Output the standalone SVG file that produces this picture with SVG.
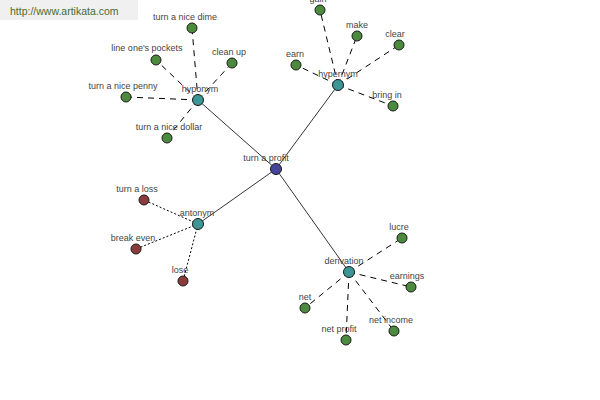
<svg xmlns="http://www.w3.org/2000/svg" width="600" height="400" viewBox="0 0 600 400">
<style>
.bg{fill:#ffffff}
.wm{fill:#f0f0f0}
.wmt{font-family:"Liberation Sans",Arial,sans-serif;font-size:10.5px;fill:#4a6a32}
.lbl{font-family:"Liberation Sans",Arial,sans-serif;font-size:9px;fill:#444444;text-anchor:middle}
.solid{stroke:#000;stroke-width:0.8;fill:none}
.dash{stroke:#000;stroke-width:1;stroke-dasharray:6,5;fill:none}
.dot{stroke:#000;stroke-width:1;stroke-dasharray:2,2;fill:none}
.leaf{fill:#4c8a3e;stroke:#1a1a1a;stroke-width:1}
.hub{fill:#3d9696;stroke:#1a1a1a;stroke-width:1}
.root{fill:#44449a;stroke:#1a1a1a;stroke-width:1}
.ant{fill:#8a3c3c;stroke:#1a1a1a;stroke-width:1}
</style>
<rect class="bg" x="0" y="0" width="600" height="400"/>
<rect class="wm" x="0" y="0" width="138" height="20"/>
<text class="wmt" x="10" y="15">http://www.artikata.com</text>
<g id="connectors">
<line class="solid" x1="276" y1="169" x2="198" y2="100"/>
<line class="solid" x1="276" y1="169" x2="338" y2="85"/>
<line class="solid" x1="276" y1="169" x2="198" y2="224"/>
<line class="solid" x1="276" y1="169" x2="349" y2="272"/>
<line class="dash" x1="198" y1="100" x2="192" y2="28"/>
<line class="dash" x1="198" y1="100" x2="156" y2="60"/>
<line class="dash" x1="198" y1="100" x2="232" y2="63"/>
<line class="dash" x1="198" y1="100" x2="126" y2="97"/>
<line class="dash" x1="198" y1="100" x2="167" y2="138"/>
<line class="dash" x1="338" y1="85" x2="320" y2="10"/>
<line class="dash" x1="338" y1="85" x2="357" y2="36"/>
<line class="dash" x1="338" y1="85" x2="399" y2="45"/>
<line class="dash" x1="338" y1="85" x2="296" y2="65"/>
<line class="dash" x1="338" y1="85" x2="393" y2="106"/>
<line class="dot" x1="198" y1="224" x2="144" y2="200"/>
<line class="dot" x1="198" y1="224" x2="136" y2="249"/>
<line class="dot" x1="198" y1="224" x2="183" y2="281"/>
<line class="dash" x1="349" y1="272" x2="402" y2="238"/>
<line class="dash" x1="349" y1="272" x2="411" y2="287"/>
<line class="dash" x1="349" y1="272" x2="305" y2="308"/>
<line class="dash" x1="349" y1="272" x2="346" y2="340"/>
<line class="dash" x1="349" y1="272" x2="394" y2="331"/>
</g>
<g id="turn-a-profit"><circle class="root" cx="276" cy="169" r="5.5"/><text class="lbl" x="266" y="161">turn a profit</text></g>
<g id="hyponym"><circle class="hub" cx="198" cy="100" r="5.5"/><text class="lbl" x="200" y="92">hyponym</text></g>
<g id="hypernym"><circle class="hub" cx="338" cy="85" r="5.5"/><text class="lbl" x="338" y="77">hypernym</text></g>
<g id="antonym"><circle class="hub" cx="198" cy="224" r="5.5"/><text class="lbl" x="197" y="216">antonym</text></g>
<g id="derivation"><circle class="hub" cx="349" cy="272" r="5.5"/><text class="lbl" x="344" y="264">derivation</text></g>
<g id="turn-a-nice-dime"><circle class="leaf" cx="192" cy="28" r="5"/><text class="lbl" x="185" y="20">turn a nice dime</text></g>
<g id="line-ones-pockets"><circle class="leaf" cx="156" cy="60" r="5"/><text class="lbl" x="147" y="51">line one's pockets</text></g>
<g id="clean-up"><circle class="leaf" cx="232" cy="63" r="5"/><text class="lbl" x="229" y="55">clean up</text></g>
<g id="turn-a-nice-penny"><circle class="leaf" cx="126" cy="97" r="5"/><text class="lbl" x="123" y="89">turn a nice penny</text></g>
<g id="turn-a-nice-dollar"><circle class="leaf" cx="167" cy="138" r="5"/><text class="lbl" x="169" y="130">turn a nice dollar</text></g>
<g id="gain"><circle class="leaf" cx="320" cy="10" r="5"/><text class="lbl" x="318" y="2">gain</text></g>
<g id="make"><circle class="leaf" cx="357" cy="36" r="5"/><text class="lbl" x="357" y="28">make</text></g>
<g id="clear"><circle class="leaf" cx="399" cy="45" r="5"/><text class="lbl" x="395" y="37">clear</text></g>
<g id="earn"><circle class="leaf" cx="296" cy="65" r="5"/><text class="lbl" x="295" y="57">earn</text></g>
<g id="bring-in"><circle class="leaf" cx="393" cy="106" r="5"/><text class="lbl" x="387" y="98">bring in</text></g>
<g id="turn-a-loss"><circle class="ant" cx="144" cy="200" r="5"/><text class="lbl" x="137" y="192">turn a loss</text></g>
<g id="break-even"><circle class="ant" cx="136" cy="249" r="5"/><text class="lbl" x="133" y="241">break even</text></g>
<g id="lose"><circle class="ant" cx="183" cy="281" r="5"/><text class="lbl" x="180" y="273">lose</text></g>
<g id="lucre"><circle class="leaf" cx="402" cy="238" r="5"/><text class="lbl" x="399" y="230">lucre</text></g>
<g id="earnings"><circle class="leaf" cx="411" cy="287" r="5"/><text class="lbl" x="407" y="279">earnings</text></g>
<g id="net"><circle class="leaf" cx="305" cy="308" r="5"/><text class="lbl" x="305" y="300">net</text></g>
<g id="net-profit"><circle class="leaf" cx="346" cy="340" r="5"/><text class="lbl" x="339" y="332">net profit</text></g>
<g id="net-income"><circle class="leaf" cx="394" cy="331" r="5"/><text class="lbl" x="391" y="323">net income</text></g>
</svg>
